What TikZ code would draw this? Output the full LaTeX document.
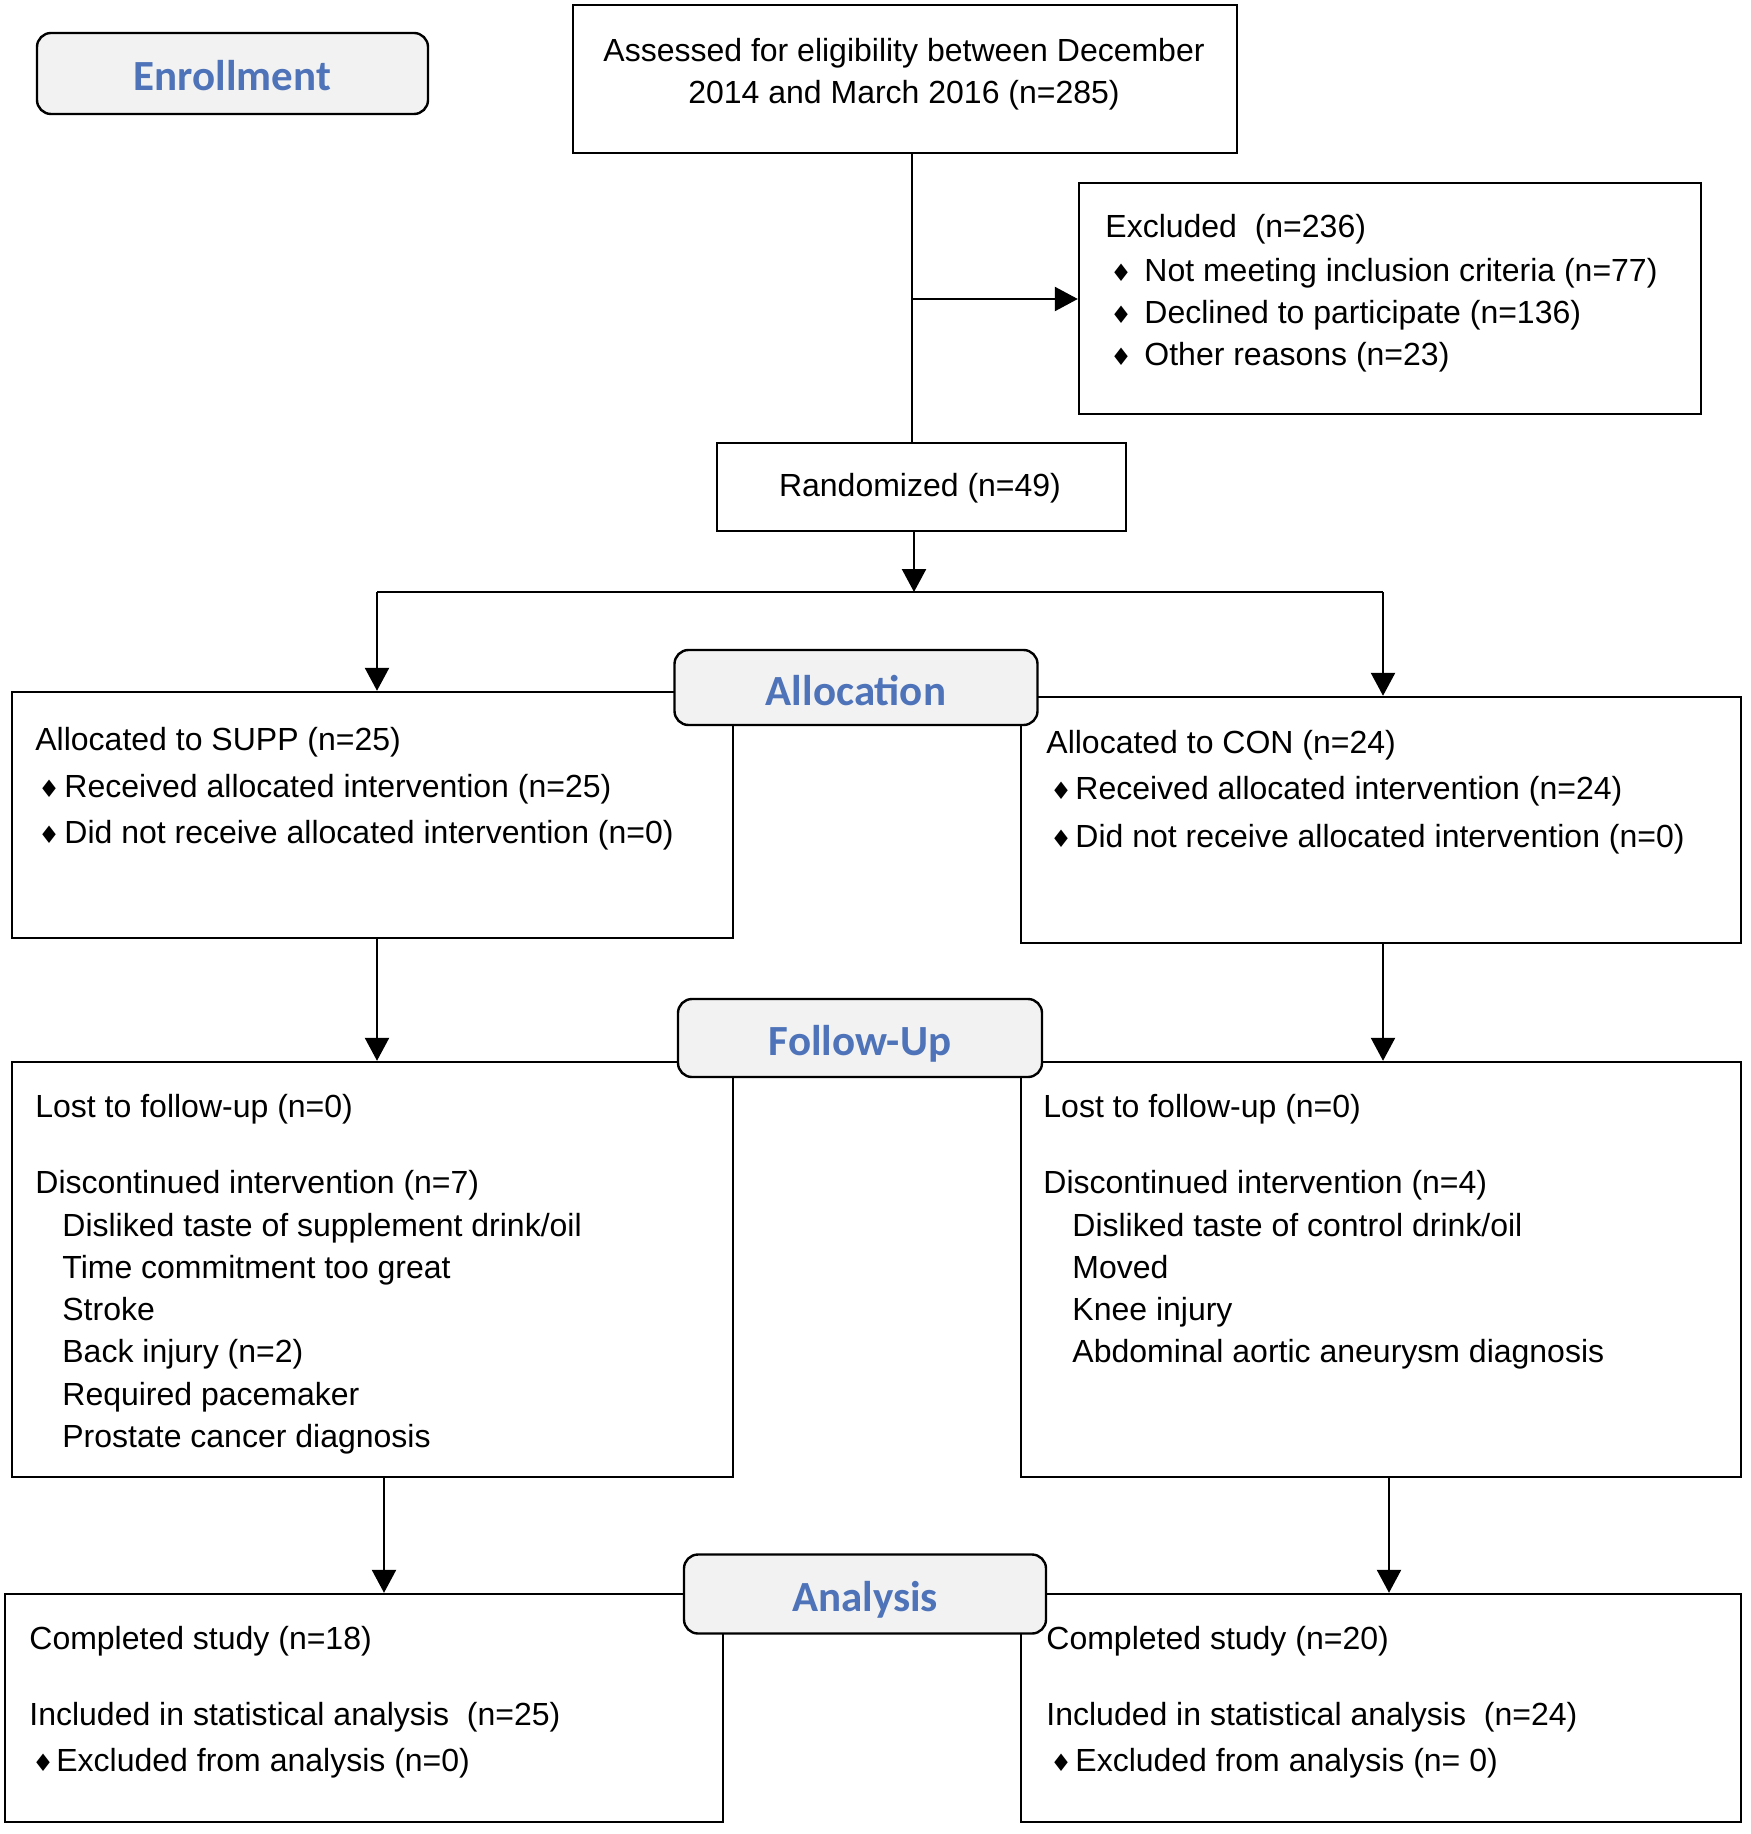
\documentclass[tikz,border=0pt]{standalone}
\usepackage{fontspec}
\setmainfont{Liberation Sans}
\newfontfamily\labfont{Carlito}
\newfontfamily\symfont{DejaVu Sans}
\usetikzlibrary{arrows.meta}
\definecolor{labblue}{RGB}{78,115,185}
\definecolor{labfill}{RGB}{242,242,242}
\newcommand\dia[1]{\makebox[#1][l]{{\symfont\fontsize{12pt}{12pt}\selectfont ♦}}}
\begin{document}
\begin{tikzpicture}[x=0.5pt,y=-0.5pt,
  box/.style={draw, line width=1.2pt, inner sep=0pt, fill=white},
  lab/.style={draw, line width=1.2pt, rounded corners=7pt, fill=labfill, inner sep=0pt,
    text height=17.5pt, text depth=0pt,
    font=\labfont\bfseries\fontsize{21.5pt}{21.5pt}\selectfont, text=labblue},
  txt/.style={anchor=base west, inner sep=0pt, font=\fontsize{16pt}{19pt}\selectfont},
  ctxt/.style={anchor=base, inner sep=0pt, font=\fontsize{16pt}{19pt}\selectfont},
  arr/.style={line width=1.2pt, -{Triangle[length=11.5pt,width=12pt]}},
  ln/.style={line width=1.2pt}]
\useasboundingbox (0,0) rectangle (1750,1834);

% boxes
\node[box, minimum width=332pt, minimum height=74pt] (assess) at (905,79) {};
\node[box, minimum width=311pt, minimum height=115.5pt] (excl) at (1390,298.5) {};
\node[box, minimum width=204.5pt, minimum height=44pt] (rand) at (921.5,487) {};
\node[box, minimum width=360.5pt, minimum height=123pt] (allocS) at (372.5,815) {};
\node[box, minimum width=360pt, minimum height=123pt] (allocC) at (1381,820) {};
\node[box, minimum width=360.5pt, minimum height=207.5pt] (fuS) at (372.5,1269.5) {};
\node[box, minimum width=360pt, minimum height=207.5pt] (fuC) at (1381,1269.5) {};
\node[box, minimum width=359pt, minimum height=114pt] (anS) at (364,1708) {};
\node[box, minimum width=360pt, minimum height=114pt] (anC) at (1381,1708) {};

% stage labels
\node[lab, minimum width=195.5pt, minimum height=40.5pt] (enroll) at (232.5,73.5) {Enrollment};
\node[lab, minimum width=181.5pt, minimum height=37.5pt] (alloc) at (856,687.5) {Allocation};
\node[lab, minimum width=182pt, minimum height=39pt] (fu) at (860,1038) {Follow-Up};
\node[lab, minimum width=181pt, minimum height=39.5pt] (an) at (865,1594) {Analysis};

% connectors
\coordinate (trunk) at (912,299);
\draw[ln] (assess.south -| trunk) -- (rand.north -| trunk);
\draw[arr] (trunk) -- (excl.west |- trunk);
\coordinate (split) at (914,592);
\coordinate (splitL) at (377,592);
\coordinate (splitR) at (1383,592);
\draw[arr] (rand.south -| split) -- (split);
\draw[ln] (splitL) -- (splitR);
\draw[arr] (splitL) -- (allocS.north -| splitL);
\draw[arr] (splitR) -- (allocC.north -| splitR);
\draw[arr] (allocS.south -| splitL) -- (fuS.north -| splitL);
\draw[arr] (allocC.south -| splitR) -- (fuC.north -| splitR);
\coordinate (lowL) at (384,1477);
\coordinate (lowR) at (1389,1477);
\draw[arr] (fuS.south -| lowL) -- (anS.north -| lowL);
\draw[arr] (fuC.south -| lowR) -- (anC.north -| lowR);

% texts
\node[ctxt] (as1) at (904,62) {Assessed for eligibility between December};
\node[ctxt] (as2) at (904,104) {2014 and March 2016 (n=285)};

\node[txt] (ex0) at (1105,238) {Excluded\ \ (n=236)};
\node[txt] (ex1) at (1110,282) {\dia{17pt}Not meeting inclusion criteria (n=77)};
\node[txt] (ex2) at (1110,324) {\dia{17pt}Declined to participate (n=136)};
\node[txt] (ex3) at (1110,366) {\dia{17pt}Other reasons (n=23)};

\node[ctxt] (rt) at (920,496) {Randomized (n=49)};

\node[txt] (aS0) at (35,750) {Allocated to SUPP (n=25)};
\node[txt] (aS1) at (38,797) {\dia{13pt}Received allocated intervention (n=25)};
\node[txt] (aS2) at (38,843) {\dia{13pt}Did not receive allocated intervention (n=0)};

\node[txt] (aC0) at (1046,753) {Allocated to CON (n=24)};
\node[txt] (aC1) at (1050,799) {\dia{12.5pt}Received allocated intervention (n=24)};
\node[txt] (aC2) at (1050,847) {\dia{12.5pt}Did not receive allocated intervention (n=0)};

\node[txt] (fS0) at (35,1117) {Lost to follow-up (n=0)};
\node[txt] (fS1) at (35,1193) {Discontinued intervention (n=7)};
\node[txt] (fS2) at (62,1236) {Disliked taste of supplement drink/oil};
\node[txt] (fS3) at (62,1278) {Time commitment too great};
\node[txt] (fS4) at (62,1320) {Stroke};
\node[txt] (fS5) at (62,1362) {Back injury (n=2)};
\node[txt] (fS6) at (62,1405) {Required pacemaker};
\node[txt] (fS7) at (62,1447) {Prostate cancer diagnosis};

\node[txt] (fC0) at (1043,1117) {Lost to follow-up (n=0)};
\node[txt] (fC1) at (1043,1193) {Discontinued intervention (n=4)};
\node[txt] (fC2) at (1072,1236) {Disliked taste of control drink/oil};
\node[txt] (fC3) at (1072,1278) {Moved};
\node[txt] (fC4) at (1072,1320) {Knee injury};
\node[txt] (fC5) at (1072,1362) {Abdominal aortic aneurysm diagnosis};

\node[txt] (nS0) at (29,1649) {Completed study (n=18)};
\node[txt] (nS1) at (29,1725) {Included in statistical analysis\ \ (n=25)};
\node[txt] (nS2) at (32,1771) {\dia{12pt}Excluded from analysis (n=0)};

\node[txt] (nC0) at (1046,1649) {Completed study (n=20)};
\node[txt] (nC1) at (1046,1725) {Included in statistical analysis\ \ (n=24)};
\node[txt] (nC2) at (1050,1771) {\dia{12.5pt}Excluded from analysis (n= 0)};
\end{tikzpicture}
\end{document}
